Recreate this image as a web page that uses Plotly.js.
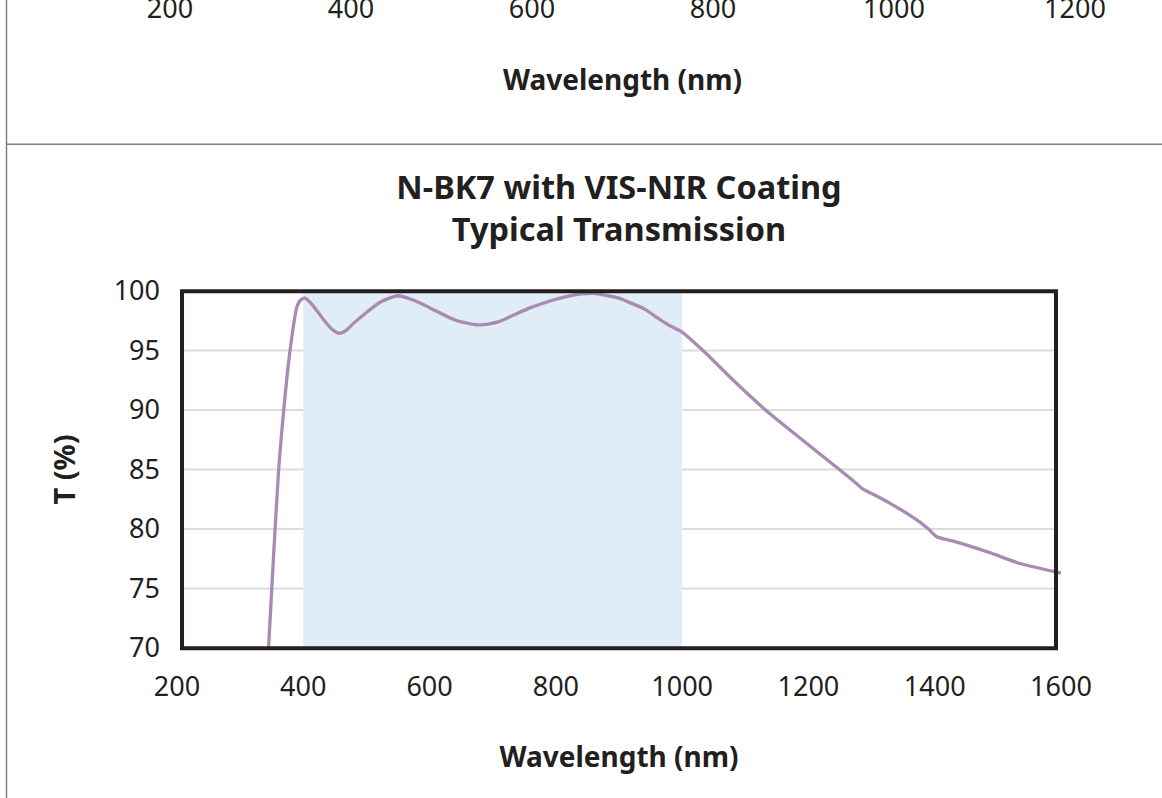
<!DOCTYPE html>
<html>
<head>
<meta charset="utf-8">
<script src="https://cdn.plot.ly/plotly-3.0.1.min.js"></script>
<style>
  html, body { margin: 0; padding: 0; background: #ffffff; overflow: hidden; width: 1162px; height: 798px; }
  #chart { position: absolute; left: 0; top: -100px; width: 1162px; height: 898px; }
</style>
</head>
<body>
<div id="chart"></div>
<script>
// ---- data ----
const wavelength = [345, 353, 361, 369, 379, 390, 397, 403, 415, 432, 445, 456, 468, 480, 500, 523, 550, 576, 600, 630, 650, 680, 709, 734, 760, 787, 815, 840, 860, 877, 900, 920, 940, 962, 980, 1000, 1036, 1079, 1132, 1190, 1249, 1270, 1285, 1292, 1328, 1376, 1390, 1403, 1435, 1488, 1535, 1591, 1600];
const transmission = [70.0, 77.8, 85.0, 90.0, 95.0, 98.7, 99.3, 99.4, 98.8, 97.6, 96.8, 96.45, 96.7, 97.3, 98.2, 99.1, 99.6, 99.2, 98.6, 97.8, 97.4, 97.15, 97.4, 98.0, 98.6, 99.1, 99.5, 99.75, 99.8, 99.66, 99.4, 98.96, 98.5, 97.7, 97.1, 96.55, 94.85, 92.6, 90.0, 87.5, 85.0, 84.1, 83.4, 83.2, 82.2, 80.6, 80.0, 79.35, 78.9, 78.0, 77.1, 76.4, 76.3];
const coatingBand = [400, 1000];          // shaded VIS-NIR design band (nm)
const xTicks = [200, 400, 600, 800, 1000, 1200, 1400, 1600];
const yTicks = [70, 75, 80, 85, 90, 95, 100];
const upperXTicks = [200, 400, 600, 800, 1000, 1200];
const chartTitle = 'N-BK7 with VIS-NIR Coating<br>Typical Transmission';
const xTitle = 'Wavelength (nm)';
const yTitle = 'T (%)';

// ---- geometry helpers (figure is 1162 x 898, shifted up by 100px) ----
const W = 1162, H = 898, OFF = 100;
const px = v => v / W;                       // page x -> paper x
const py = v => (H - (v + OFF)) / H;          // page y -> paper y

const FONT = "'Noto Sans', 'Open Sans', sans-serif";
const INK = '#231f20';

const traces = [
  {
    x: wavelength, y: transmission, type: 'scatter', mode: 'lines',
    line: { color: '#a78bb3', width: 3.3, shape: 'spline', smoothing: 0.6 },
    xaxis: 'x', yaxis: 'y', hoverinfo: 'x+y', showlegend: false
  },
  { x: [], y: [], type: 'scatter', mode: 'lines', xaxis: 'x2', yaxis: 'y2', showlegend: false }
];

const shapes = [
  { type: 'rect', xref: 'x', yref: 'y', x0: coatingBand[0], x1: coatingBand[1], y0: 70, y1: 100,
    fillcolor: '#e0ecf6', line: { width: 0 }, layer: 'below' }
];
yTicks.slice(1, -1).forEach(v => shapes.push({
  type: 'line', xref: 'paper', yref: 'y', x0: px(183), x1: px(1055), y0: v, y1: v,
  line: { color: '#dcdcdc', width: 2 }, layer: 'below'
}));
shapes.push({ type: 'rect', xref: 'paper', yref: 'paper', x0: px(182), x1: px(1056), y0: py(648.3), y1: py(291.3),
  line: { color: INK, width: 4 }, fillcolor: 'rgba(0,0,0,0)', layer: 'above' });
// panel borders
shapes.push({ type: 'line', xref: 'paper', yref: 'paper', x0: px(6.5), x1: px(6.5), y0: 0, y1: 1,
  line: { color: '#808080', width: 1.5 } });
shapes.push({ type: 'line', xref: 'paper', yref: 'paper', x0: px(6.5), x1: 1, y0: py(144.3), y1: py(144.3),
  line: { color: '#808080', width: 1.5 } });

const tickFont = { family: FONT, size: 27, color: INK };
const titleFont = { family: FONT, size: 28, color: INK, weight: 'bold' };

const layout = {
  width: W, height: H,
  margin: { l: 0, r: 0, t: 0, b: 0, pad: 0 },
  paper_bgcolor: '#ffffff', plot_bgcolor: 'rgba(0,0,0,0)',
  showlegend: false,
  title: { text: chartTitle, xref: 'container', yref: 'container', x: 619 / W, xanchor: 'center',
           y: 1 - (OFF + 199) / H, yanchor: 'top',
           font: { family: FONT, size: 32.5, color: INK, weight: 'bold' } },
  xaxis: {
    domain: [px(177), px(1061)], range: [200, 1600], anchor: 'y',
    tickvals: xTicks, ticks: '', showgrid: false, zeroline: false, showline: false,
    tickfont: tickFont, ticklabelstandoff: 20,
    title: { text: xTitle, font: titleFont, standoff: 44 }
  },
  yaxis: {
    domain: [py(648), py(291)], range: [70, 100], anchor: 'x',
    tickvals: yTicks, ticks: '', showgrid: false, zeroline: false, showline: false,
    tickfont: tickFont, ticklabelstandoff: 16,
    title: { text: yTitle, font: { family: FONT, size: 29, color: INK, weight: 'bold' }, standoff: 29 }
  },
  xaxis2: {
    domain: [px(170), px(1075)], range: [200, 1200], anchor: 'y2',
    tickvals: upperXTicks, ticks: '', showgrid: false, zeroline: false, showline: false,
    tickfont: tickFont, ticklabelstandoff: 20,
    title: { text: xTitle, font: titleFont, standoff: 45 }
  },
  yaxis2: {
    domain: [py(-30), 1], range: [0, 1], anchor: 'x2', visible: false
  },
  shapes: shapes
};

Plotly.newPlot('chart', traces, layout, { displayModeBar: false, staticPlot: true });
</script>
</body>
</html>
